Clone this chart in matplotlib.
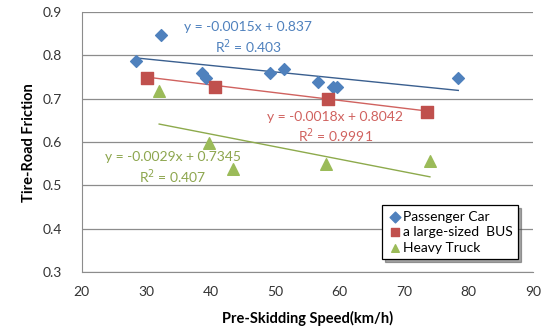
import numpy as np
import matplotlib.pyplot as plt

plt.rcParams['font.family'] = ['Lato', 'DejaVu Sans']

# passenger car
car_x = [28.4, 32.3, 38.6, 39.3, 49.2, 51.4, 56.6, 59.0, 59.6, 78.4]
car_y = [0.787, 0.847, 0.759, 0.748, 0.759, 0.768, 0.738, 0.727, 0.727, 0.748]
# large bus
bus_x = [30.1, 40.7, 58.2, 73.6]
bus_y = [0.748, 0.727, 0.699, 0.669]
# heavy truck
truck_x = [32.0, 39.7, 43.4, 57.9, 74.0]
truck_y = [0.717, 0.598, 0.537, 0.549, 0.557]

# trendline coefficients (slope, intercept, r2) as printed on the chart
car_fit = (-0.0015, 0.837, '0.403')
bus_fit = (-0.0018, 0.8042, '0.9991')
truck_fit = (-0.0029, 0.7345, '0.407')

blue = '#4F81BD'
red = '#C0504D'
green = '#9BBB59'

fig = plt.figure(figsize=(5.49, 3.29), dpi=100)
ax = fig.add_axes([0.149, 0.173, 0.822, 0.79])


def trend(x, fit, color):
    xs = np.array([min(x), max(x)])
    ax.plot(xs, fit[0] * xs + fit[1], color=color, lw=1.0, zorder=2)


trend(car_x, car_fit, '#3A5F8F')
trend(bus_x, bus_fit, '#D0625F')
trend(truck_x, truck_fit, '#8DAA4C')

ax.scatter(car_x, car_y, marker='D', s=36, color=blue, label='Passenger Car', zorder=3)
ax.scatter(bus_x, bus_y, marker='s', s=70, color=red, label='a large-sized  BUS', zorder=3)
ax.scatter(truck_x, truck_y, marker='^', s=70, color=green, label='Heavy Truck', zorder=3)


def eq_text(x, y, fit, color):
    txt = 'y = %sx + %s' % (fit[0], fit[1])
    ax.text(x, y, txt, color=color, fontsize=10, ha='center', va='center')
    ax.text(x, y - 0.045, 'R$^2$ = ' + fit[2], color=color, fontsize=10,
            ha='center', va='center')


eq_text(45.8, 0.865, car_fit, blue)
eq_text(59.3, 0.659, bus_fit, '#D0625F')
eq_text(34.1, 0.566, truck_fit, '#8DA64E')

ax.set_xlim(20, 90)
ax.set_ylim(0.3, 0.9)
ax.set_xticks(range(20, 91, 10))
ax.set_yticks(np.arange(0.3, 0.91, 0.1))
ax.set_yticklabels(['%.1f' % v for v in np.arange(0.3, 0.91, 0.1)])
ax.grid(axis='y', color='#8C8C8C', lw=0.9)
ax.set_axisbelow(True)
for s in ['top', 'right']:
    ax.spines[s].set_visible(False)
for s in ['left', 'bottom']:
    ax.spines[s].set_color('#8C8C8C')
ax.tick_params(length=0, labelsize=10, colors='#333333')
ax.tick_params(axis='y', pad=14)
ax.tick_params(axis='x', pad=10)

ax.set_xlabel('Pre-Skidding Speed(km/h)', fontsize=10.5, fontweight='bold', labelpad=9)
ax.set_ylabel('Tire-Road Friction', fontsize=10.5, fontweight='bold', labelpad=5)

leg = ax.legend(loc='lower right', bbox_to_anchor=(0.967, 0.05), fontsize=10,
                frameon=True, fancybox=False, handletextpad=0.1, handlelength=1.0,
                borderpad=0.4, labelspacing=0.25, borderaxespad=0, shadow=True)
leg.get_frame().set_edgecolor('black')
leg.get_frame().set_linewidth(0.9)
for h in leg.legend_handles:
    h.set_sizes([30])

fig.savefig('out.png', dpi=100)
